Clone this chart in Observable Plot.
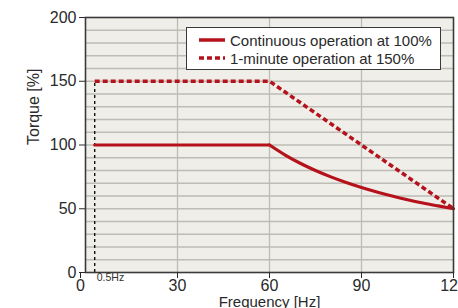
<!DOCTYPE html>
<html>
<head>
<meta charset="utf-8">
<script src="https://cdn.jsdelivr.net/npm/d3@7"></script>
<script src="https://cdn.jsdelivr.net/npm/@observablehq/plot@0.6"></script>
<style>
  html, body { margin: 0; padding: 0; background: #fff; overflow: hidden; }
  #wrap { position: relative; width: 458px; height: 308px; font-family: "Liberation Sans", Arial, sans-serif; }
  #legend { position: absolute; left: 186px; top: 27px; width: 253px; height: 41px; background: #fff; border: 1.4px solid #3a3a3a; box-sizing: content-box; }
  .item { position: absolute; left: 0; height: 18px; display: flex; align-items: center; font-size: 15px; color: #2a2a2a; white-space: nowrap; }
  .item svg { margin-left: 12px; margin-right: 5px; }
</style>
</head>
<body>
<div id="wrap"></div>
<script>
// Data
const contFreq   = [3, 60, 65, 70, 75, 80, 85, 90, 95, 100, 105, 110, 115, 120];
const contTorque = [100, 100, 92.3, 85.7, 80, 75, 70.6, 66.7, 63.2, 60, 57.1, 54.5, 52.2, 50];
const minuteFreq   = [3, 60, 120];
const minuteTorque = [150, 150, 50];
const lowFreq = 3;           // drawn position of the 0.5Hz marker
const lowFreqLabel = "0.5Hz";
const baseFreq = 60;
const xTicks = [0, 30, 60, 90, 120];
const yTicks = [0, 50, 100, 150, 200];
const yGrid = [10, 20, 30, 40, 50, 60, 70, 80, 90, 100, 110, 120, 130, 140, 150, 160, 170, 180, 190];
const xGrid = [30, 60, 90];
const seriesNames = ["Continuous operation at 100%", "1-minute operation at 150%"];

const red = "#b5121b";
const cont = contFreq.map((f, i) => ({f, t: contTorque[i]}));
const minute = minuteFreq.map((f, i) => ({f, t: minuteTorque[i]}));
const contFlat = cont.filter(d => d.f <= baseFreq);
const contCurve = cont.filter(d => d.f >= baseFreq);

const chart = Plot.plot({
  width: 458,
  height: 308,
  marginLeft: 85,
  marginRight: 5,
  marginTop: 17,
  marginBottom: 36,
  style: {fontFamily: "'Liberation Sans', Arial, sans-serif", fontSize: "16px", color: "#2a2a2a", background: "transparent", overflow: "visible"},
  x: {domain: [0, 120]},
  y: {domain: [0, 200]},
  marks: [
    Plot.frame({fill: "#efeee9", stroke: null}),
    Plot.ruleY(yGrid, {stroke: "#bdbcb6", strokeWidth: 1.3}),
    Plot.ruleX(xGrid, {stroke: "#bdbcb6", strokeWidth: 1.3}),
    Plot.ruleX([lowFreq], {y1: 0, y2: 150, stroke: "#111", strokeWidth: 1.4, strokeDasharray: "3,3"}),
    Plot.line(minute, {x: "f", y: "t", stroke: red, strokeWidth: 3.5, strokeDasharray: "5,3", strokeLinecap: "butt"}),
    Plot.line(contFlat, {x: "f", y: "t", stroke: red, strokeWidth: 3.2}),
    Plot.line(contCurve, {x: "f", y: "t", stroke: red, strokeWidth: 3.2, curve: "monotone-x"}),
    Plot.frame({stroke: "#3a3a3a", strokeWidth: 1.6}),
    Plot.axisY({ticks: yTicks, tickSize: 6, tickPadding: 3, label: null, fontSize: 16}),
    Plot.axisX({ticks: xTicks.filter(d => d !== 0), tickSize: 6, tickPadding: 1, label: null, fontSize: 16}),
    Plot.axisX({ticks: [0], tickSize: 6, tickPadding: 1, label: null, fontSize: 16, dx: -5}),
    Plot.text([lowFreqLabel], {x: lowFreq, frameAnchor: "bottom", textAnchor: "start", dx: 2, dy: 8, fontSize: 10.5, fill: "#333"}),
    Plot.text(["Frequency [Hz]"], {frameAnchor: "bottom", lineAnchor: "top", dy: 24, fontSize: 15, fill: "#2a2a2a"}),
    Plot.text(["Torque [%]"], {frameAnchor: "left", dx: -52, rotate: -90, fontSize: 16, fill: "#2a2a2a"})
  ]
});

const wrap = document.getElementById("wrap");
wrap.appendChild(chart);

const legend = document.createElement("div");
legend.id = "legend";
seriesNames.forEach((name, i) => {
  const item = document.createElement("div");
  item.className = "item";
  item.style.top = (i === 0 ? 3 : 21) + "px";
  const dash = i === 0 ? "" : "stroke-dasharray='5,3'";
  item.innerHTML = `<svg width="26" height="8"><line x1="0" x2="26" y1="4" y2="4" stroke="${red}" stroke-width="3.5" ${dash}/></svg><span>${name}</span>`;
  legend.appendChild(item);
});
wrap.appendChild(legend);
</script>
</body>
</html>
